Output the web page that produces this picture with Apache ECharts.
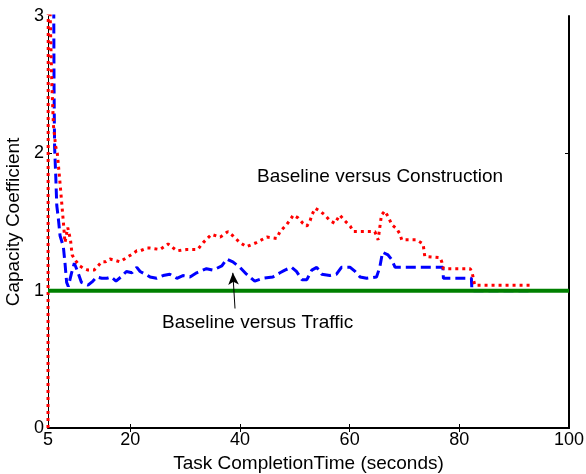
<!DOCTYPE html>
<html><head><meta charset="utf-8">
<script src="https://cdn.jsdelivr.net/npm/echarts@6/dist/echarts.min.js"></script>
<style>html,body{margin:0;padding:0;background:#fff}#c{width:586px;height:474px}</style>
</head><body><div id="c"></div>
<script>
const xTicks = [5, 20, 40, 60, 80, 100];
const yTicks = [0, 1, 2, 3];
const trafficX = [6.0,6.1,6.2,6.4,6.6,6.9,7.2,7.8,8.1,8.4,8.7,9.0,9.3,9.8,10.4,11.1,12.3,13.2,13.9,14.8,15.7,16.5,17.4,18.3,19.3,20.3,21.2,21.8,22.7,23.6,24.8,26.0,27.2,28.5,29.6,30.9,32.1,33.9,35.1,36.7,37.6,38.7,40.0,41.2,42.7,44.2,46.0,47.3,48.2,49.4,50.3,51.3,52.2,53.1,54.0,54.9,56.4,57.6,58.5,60.1,61.0,61.9,63.1,64.9,65.5,66.0,67.0,67.6,68.3,72.8,77.0,77.1,82.2,82.3,93.0];
const trafficY = [3.6,2.5,2.05,1.85,1.62,1.52,1.40,1.32,1.20,1.06,1.03,1.08,1.13,1.20,1.14,1.06,1.04,1.07,1.10,1.09,1.09,1.10,1.07,1.10,1.14,1.13,1.17,1.14,1.12,1.10,1.09,1.11,1.12,1.09,1.11,1.10,1.13,1.16,1.15,1.18,1.23,1.21,1.17,1.12,1.07,1.09,1.10,1.13,1.15,1.17,1.14,1.08,1.08,1.15,1.17,1.12,1.11,1.12,1.17,1.17,1.14,1.10,1.09,1.10,1.17,1.28,1.26,1.23,1.17,1.17,1.17,1.09,1.09,1.00,1.00];
const constrX = [5.0,5.05,5.4,5.7,6.0,6.4,6.7,7.2,7.5,7.8,8.1,8.3,8.6,8.8,9.1,9.4,10.0,10.8,11.6,12.3,13.4,13.9,14.8,15.5,16.3,17.3,18.1,19.3,20.1,21.2,21.8,23.0,23.6,25.4,26.9,28.5,30.3,32.3,33.3,34.8,36.4,37.8,38.7,40.0,41.2,43.0,44.9,46.7,47.3,48.5,49.4,49.7,50.6,51.5,52.2,52.8,53.1,53.7,54.6,55.5,56.4,57.3,58.2,59.1,60.1,60.7,61.9,64.6,65.2,65.8,66.4,67.0,67.7,68.6,69.2,69.5,72.2,73.4,73.7,76.5,76.8,77.1,82.0,82.4,82.8,93.2];
const constrY = [0,3.6,3.0,2.5,2.2,2.05,2.0,1.78,1.64,1.50,1.35,1.35,1.46,1.45,1.37,1.26,1.22,1.18,1.16,1.15,1.15,1.17,1.21,1.21,1.23,1.22,1.21,1.24,1.26,1.29,1.29,1.31,1.31,1.30,1.34,1.29,1.30,1.30,1.35,1.41,1.39,1.43,1.40,1.35,1.32,1.35,1.39,1.38,1.43,1.48,1.53,1.55,1.53,1.49,1.47,1.51,1.55,1.60,1.58,1.55,1.51,1.49,1.55,1.51,1.47,1.43,1.43,1.43,1.37,1.55,1.58,1.54,1.48,1.45,1.41,1.37,1.37,1.34,1.25,1.24,1.21,1.16,1.16,1.12,1.04,1.04];
const refX = [5, 100];
const refY = [1, 1];
const arrowFrom = [39.1, 0.87];
const arrowTo = [38.7, 1.13];
const labelConstruction = 'Baseline versus Construction';
const labelTraffic = 'Baseline versus Traffic';

const zip = (a, b) => a.map((v, i) => [v, b[i]]);
const FONT = 'Liberation Sans, Arial, sans-serif';
const chart = echarts.init(document.getElementById('c'), null, {renderer: 'canvas'});
const innerTicksX = xTicks.slice(1, -1);
const innerTicksY = yTicks.slice(1, -1);
chart.setOption({
  animation: false,
  backgroundColor: '#fff',
  grid: {left: 48, right: 17, top: 16, bottom: 46, containLabel: false, outerBoundsMode: 'none'},
  xAxis: [{
    type: 'value', min: xTicks[0], max: xTicks[xTicks.length - 1],
    name: 'Task CompletionTime (seconds)', nameLocation: 'middle', nameGap: 25,
    nameTextStyle: {fontFamily: FONT, fontSize: 19, color: '#000'},
    axisLine: {show: true, lineStyle: {color: '#000', width: 2}},
    axisTick: {show: true, inside: true, length: 4, customValues: innerTicksX, lineStyle: {color: '#000'}},
    axisLabel: {customValues: xTicks, fontFamily: FONT, fontSize: 18, color: '#000', margin: 3},
    splitLine: {show: false}
  }, {
    type: 'value', position: 'top', min: xTicks[0], max: xTicks[xTicks.length - 1],
    axisLine: {show: true, lineStyle: {color: '#000', width: 1}},
    axisTick: {show: true, inside: true, length: 4, customValues: innerTicksX, lineStyle: {color: '#000'}},
    axisLabel: {show: false}, splitLine: {show: false}
  }],
  yAxis: [{
    type: 'value', min: yTicks[0], max: yTicks[yTicks.length - 1], interval: 1,
    name: 'Capacity Coefficient', nameLocation: 'middle', nameGap: 20,
    nameTextStyle: {fontFamily: FONT, fontSize: 19, color: '#000'},
    axisLine: {show: true, lineStyle: {color: '#000', width: 1}},
    axisTick: {show: true, inside: true, length: 4, customValues: innerTicksY, lineStyle: {color: '#000'}},
    axisLabel: {customValues: yTicks, fontFamily: FONT, fontSize: 18, color: '#000', margin: 4},
    splitLine: {show: false}
  }, {
    type: 'value', position: 'right', min: yTicks[0], max: yTicks[yTicks.length - 1], interval: 1,
    axisLine: {show: true, lineStyle: {color: '#000', width: 2}},
    axisTick: {show: true, inside: true, length: 4, customValues: innerTicksY, lineStyle: {color: '#000'}},
    axisLabel: {show: false}, splitLine: {show: false}
  }],
  series: [{
    type: 'line', data: zip(trafficX, trafficY), symbol: 'none', clip: true,
    lineStyle: {color: '#0000ff', width: 3, type: [10, 5]}
  }, {
    type: 'line', data: zip(constrX, constrY), symbol: 'none', clip: true,
    lineStyle: {color: '#ff0000', width: 3, type: [3, 4]}
  }, {
    type: 'line', data: zip(refX, refY), symbol: 'none',
    lineStyle: {color: '#008000', width: 4},
    markLine: {
      silent: true, symbol: ['none', 'arrow'], symbolSize: [8, 12],
      lineStyle: {color: '#000', width: 1, type: 'solid'},
      label: {show: false},
      data: [[{coord: arrowFrom}, {coord: arrowTo}]]
    }
  }],
  graphic: [
    {type: 'text', left: 257, top: 167, style: {text: labelConstruction, font: '19px ' + FONT, fill: '#000'}},
    {type: 'text', left: 162, top: 313, style: {text: labelTraffic, font: '19px ' + FONT, fill: '#000'}}
  ]
});
</script></body></html>
